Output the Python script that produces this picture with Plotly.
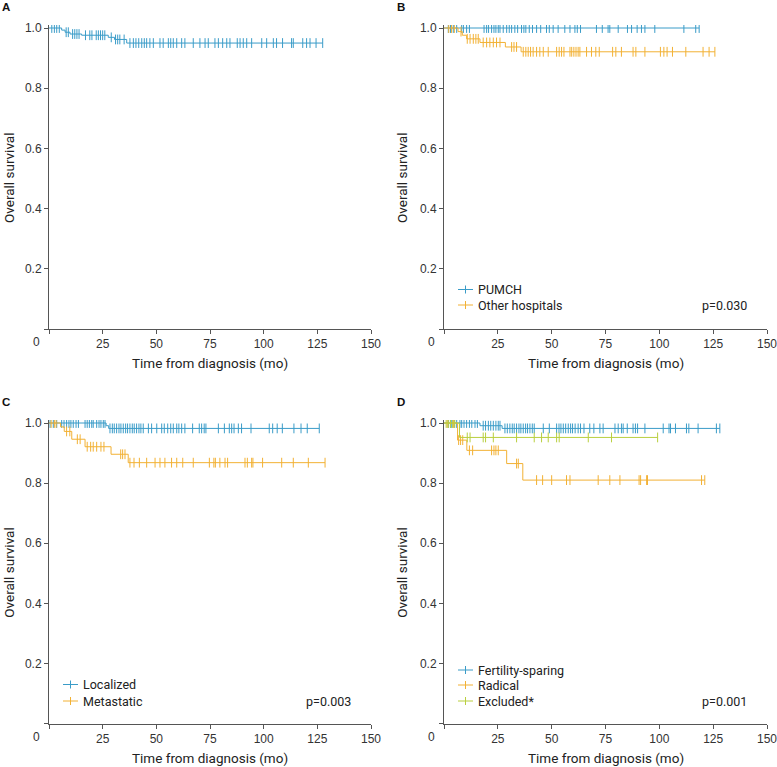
import numpy as np
import plotly.graph_objects as go

BLUE = "#3a9cc8"
ORANGE = "#f2b134"
GREEN = "#b9cf3e"

# ---------------- data ----------------
# Panel A: all patients
a_evt_t = [5.9, 7.5, 9.8, 15.2, 27.6, 30.5, 36.2]
a_evt_s = [0.993, 0.986, 0.980, 0.976, 0.969, 0.962, 0.950]
a_cens = [1.3, 2.5, 3.6, 4.8, 8, 9, 11, 12, 13, 14, 17, 19, 20, 22, 23, 24, 25, 26,
          29, 31, 32, 33, 35, 37.7, 39.3, 40.5, 41.8, 43.2, 44.4, 45.5, 47.0, 48.6,
          51.7, 53.2, 55.6, 56.7, 57.9, 59.5, 61.8, 63.3, 67.2, 70.3, 72.7, 74.2,
          77.3, 78.9, 80.9, 82.8, 84.3, 87.7, 89.0, 90.5, 92.1, 94.4, 99.1, 101.4,
          104.5, 106.0, 108.8, 113.0, 113.8, 118.2, 120.0, 121.6, 124.4, 127.5]

# Panel B: PUMCH vs other hospitals
b_pumch_evt_t = []
b_pumch_evt_s = []
b_pumch_cens = [2.0, 3.0, 4.3, 5.9, 8.2, 9.0, 10.5, 11.8, 18.6, 19.8, 20.7, 22.1, 23.2,
                24.1, 25.2, 26.0, 27.5, 29.1, 30.3, 31.4, 32.9, 34.2, 36.0, 37.1, 38.0,
                39.6, 41.1, 43.0, 44.9, 47.6, 48.9, 50.7, 53.0, 56.1, 58.5, 60.8, 61.9,
                63.4, 70.8, 73.5, 76.2, 77.0, 80.9, 85.2, 87.1, 89.7, 91.7, 93.3, 97.9,
                111.4, 116.9, 118.5]
b_other_evt_t = [6.5, 8.5, 10.5, 16.7, 28.5, 35.8]
b_other_evt_s = [0.988, 0.976, 0.964, 0.952, 0.937, 0.921]
b_other_cens = [2.2, 3.5, 4.8, 7.9, 10.8, 12.1, 13.6, 14.8, 15.9, 18.2, 19.8, 21.3, 22.9,
                24.4, 26.0, 31.4, 32.5, 33.7, 36.8, 38.0, 39.1, 40.2, 41.4, 43.0, 44.5,
                46.1, 48.4, 52.3, 53.5, 54.6, 55.7, 58.5, 59.3, 60.3, 61.3, 62.3, 63.1,
                66.2, 68.5, 70.5, 72.1, 78.3, 79.8, 82.4, 87.8, 89.1, 93.3, 100.5, 102.1,
                103.6, 106.1, 112.3, 120.3, 123.1, 125.8]

# Panel C: localized vs metastatic
c_loc_evt_t = [26.6, 27.8]
c_loc_evt_s = [0.991, 0.982]
c_loc_cens = [0.5, 2.0, 3.6, 5.9, 7.0, 8.2, 9.3, 10.2, 11.3, 12.6, 13.7, 16.8, 17.8, 18.8,
              19.9, 20.6, 22.2, 23.3, 24.2, 25.3, 26.1, 28.4, 29.5, 30.4, 31.5, 32.6,
              33.5, 34.6, 35.7, 36.6, 37.7, 38.8, 39.7, 40.8, 41.9, 42.8, 43.9, 46.3,
              47.8, 50.2, 52.5, 53.7, 55.3, 56.7, 57.9, 59.5, 60.5, 61.8, 63.3, 66.9,
              70.0, 71.1, 72.3, 73.1, 78.9, 81.7, 84.0, 85.1, 86.2, 88.2, 89.7, 94.1,
              102.6, 104.2, 106.3, 108.7, 114.1, 117.4, 120.3, 125.9]
c_met_evt_t = [5.4, 7.1, 10.6, 16.8, 28.9, 36.9]
c_met_evt_s = [0.987, 0.972, 0.946, 0.921, 0.896, 0.868]
c_met_cens = [1.0, 2.5, 3.3, 8.2, 9.7, 13.2, 14.5, 17.8, 19.4, 20.6, 22.2, 24.2, 25.6,
              33.4, 34.3, 35.4, 37.7, 39.6, 42.1, 45.5, 49.4, 51.7, 54.0, 57.1, 59.5,
              62.3, 67.2, 74.7, 76.8, 77.5, 79.6, 82.0, 83.2, 91.3, 92.4, 94.4, 95.0,
              99.5, 108.4, 113.8, 120.8, 128.6]

# Panel D: fertility-sparing vs radical vs excluded
d_fs_evt_t = [16.7, 27.0]
d_fs_evt_s = [0.991, 0.982]
d_fs_cens = [2.0, 3.0, 3.6, 4.7, 5.9, 7.4, 8.2, 9.3, 10.5, 11.8, 12.9, 14.4, 15.5, 18.2,
             19.3, 20.6, 21.7, 22.9, 24.1, 25.2, 26.0, 28.3, 29.4, 30.6, 31.7, 32.6,
             33.7, 34.8, 35.7, 36.8, 37.9, 38.8, 39.9, 41.0, 41.9, 46.1, 48.9, 52.3,
             53.4, 54.3, 55.4, 56.5, 57.7, 58.8, 59.7, 60.9, 62.3, 63.4, 65.0, 67.7,
             69.6, 72.4, 73.9, 79.4, 80.9, 82.4, 83.2, 85.1, 87.8, 88.9, 89.9, 93.3,
             101.8, 104.5, 105.2, 107.5, 112.6, 113.7, 118.0, 126.5, 128.1]
d_rad_evt_t = [6.3, 10.6, 29.1, 36.6]
d_rad_evt_s = [0.943, 0.909, 0.865, 0.810]
d_rad_cens = [1.5, 3.0, 4.5, 6.8, 7.7, 8.7, 11.8, 13.3, 22.1, 23.2, 24.1, 25.2, 33.7,
              34.5, 43.0, 45.8, 50.0, 56.9, 58.5, 71.6, 77.0, 81.7, 90.6, 91.3, 94.1,
              94.5, 119.6, 121.1]
d_exc_evt_t = [7.2]
d_exc_evt_s = [0.952]
d_exc_cens = [1.0, 2.0, 3.0, 4.0, 5.0, 10.8, 12.1, 18.2, 19.3, 22.9, 33.7, 41.9, 45.3,
              48.4, 52.3, 53.5, 67.0, 77.8, 99.2]

x_ticks = [0, 25, 50, 75, 100, 125, 150]
y_ticks = [0, 0.2, 0.4, 0.6, 0.8, 1.0]
x_title = "Time from diagnosis (mo)"
y_title = "Overall survival"

panels = {
    "A": dict(curves=[("All", a_evt_t, a_evt_s, a_cens, BLUE)], legend=False, p=None,
              rows=[]),
    "B": dict(curves=[("PUMCH", b_pumch_evt_t, b_pumch_evt_s, b_pumch_cens, BLUE),
                      ("Other hospitals", b_other_evt_t, b_other_evt_s, b_other_cens, ORANGE)],
              legend=True, p="p=0.030", rows=[289.5, 305]),
    "C": dict(curves=[("Localized", c_loc_evt_t, c_loc_evt_s, c_loc_cens, BLUE),
                      ("Metastatic", c_met_evt_t, c_met_evt_s, c_met_cens, ORANGE)],
              legend=True, p="p=0.003", rows=[684.5, 701]),
    "D": dict(curves=[("Fertility-sparing", d_fs_evt_t, d_fs_evt_s, d_fs_cens, BLUE),
                      ("Radical", d_rad_evt_t, d_rad_evt_s, d_rad_cens, ORANGE),
                      ("Excluded*", d_exc_evt_t, d_exc_evt_s, d_exc_cens, GREEN)],
              legend=True, p="p=0.001", rows=[670, 685, 701]),
}

W, H = 777, 767
def px_x(v):
    return v / W
def px_y(v):
    return (H - v) / H

# layout geometry (pixels)
geom = {
    "A": dict(x0=49, x1=371, ybot=329, ytop=25, ax="x", ay="y", ytx=9),
    "B": dict(x0=444, x1=767, ybot=329, ytop=25, ax="x2", ay="y2", ytx=402),
    "C": dict(x0=49, x1=371, ybot=723.5, ytop=420, ax="x3", ay="y3", ytx=9),
    "D": dict(x0=444, x1=767, ybot=723.5, ytop=420, ax="x4", ay="y4", ytx=402),
}

TICKFONT = dict(family="Liberation Sans, Arial", size=12, color="#333")
TITLEFONT = dict(family="Roboto, Noto Sans", size=13.5, color="#222")
LEGFONT = dict(family="Roboto, Noto Sans", size=12.5, color="#222")

fig = go.Figure()

def surv_at(evt_t, evt_s, t):
    t_arr = np.asarray(evt_t, dtype=float)
    s_arr = np.concatenate([[1.0], np.asarray(evt_s, dtype=float)])
    idx = np.searchsorted(t_arr, np.asarray(t, dtype=float), side="right")
    return s_arr[idx]

for key, pan in panels.items():
    g = geom[key]
    for name, et, es, cens, col in pan["curves"]:
        t_end = max(cens + et)
        xs = [0] + list(et) + [t_end]
        ys = [1.0] + list(es) + [es[-1] if es else 1.0]
        fig.add_trace(go.Scatter(x=xs, y=ys, mode="lines", line=dict(color=col, width=1, shape="hv"),
                                 xaxis=g["ax"], yaxis=g["ay"], showlegend=False, hoverinfo="skip",
                                 name=name))
        fig.add_trace(go.Scatter(x=cens, y=surv_at(et, es, cens), mode="markers",
                                 marker=dict(symbol="line-ns-open", size=7, color=col,
                                             line=dict(color=col, width=1)),
                                 xaxis=g["ax"], yaxis=g["ay"], showlegend=False, hoverinfo="skip",
                                 name=name + " (censored)"))

layout = dict(width=W, height=H, margin=dict(l=0, r=0, t=0, b=0),
              paper_bgcolor="white", plot_bgcolor="white", showlegend=False)

annotations = []
shapes = []
for key, g in geom.items():
    xn = g["ax"].replace("x", "xaxis")
    yn = g["ay"].replace("y", "yaxis")
    layout[xn] = dict(domain=[px_x(g["x0"]), px_x(g["x1"])], range=[0, 150],
                      tickvals=x_ticks, ticktext=[""] + [str(v) for v in x_ticks[1:]],
                      ticks="outside", ticklen=4, tickcolor="#555", showline=True,
                      linecolor="#555", linewidth=1, showgrid=False, zeroline=False,
                      tickfont=TICKFONT, anchor=g["ay"], automargin=False,
                      ticklabeloverflow="allow")
    layout[yn] = dict(domain=[px_y(g["ybot"]), px_y(g["ytop"])], range=[0, 1.01],
                      tickvals=y_ticks, ticktext=[""] + ["%.1f" % v for v in y_ticks[1:]],
                      ticks="outside", ticklen=4, tickcolor="#555", showline=True,
                      linecolor="#555", linewidth=1, showgrid=False, zeroline=False,
                      tickfont=TICKFONT, anchor=g["ax"], automargin=False,
                      ticklabeloverflow="allow")
    # axis titles
    annotations.append(dict(x=px_x((g["x0"] + g["x1"]) / 2), y=px_y(g["ybot"] + 34),
                            xref="paper", yref="paper", text=x_title, showarrow=False,
                            xanchor="center", yanchor="middle", font=TITLEFONT))
    annotations.append(dict(x=px_x(g["ytx"]), y=px_y((g["ybot"] + g["ytop"]) / 2 + 1),
                            xref="paper", yref="paper", text=y_title, showarrow=False,
                            textangle=-90, xanchor="center", yanchor="middle", font=TITLEFONT))
    # panel letter
    annotations.append(dict(x=px_x(g["x0"] - 43), y=px_y(g["ytop"] - 18), xref="paper", yref="paper",
                            text="<b>%s</b>" % key, showarrow=False, xanchor="center", yanchor="middle",
                            font=dict(family="Liberation Sans, Arial", size=11.5, color="#111")))
    # origin label
    annotations.append(dict(x=px_x(g["x0"] - 13), y=px_y(g["ybot"] + 13), xref="paper", yref="paper",
                            text="0", showarrow=False, xanchor="center", yanchor="middle",
                            font=TICKFONT))

for key, pan in panels.items():
    g = geom[key]
    if pan["p"]:
        annotations.append(dict(x=px_x(g["x1"] - 18), y=px_y(pan["rows"][-1]), xref="paper", yref="paper",
                                text=pan["p"], showarrow=False, xanchor="right", yanchor="middle",
                                font=LEGFONT))
    if pan["legend"]:
        for (name, et, es, cens, col), ry in zip(pan["curves"], pan["rows"]):
            lx0 = g["x0"] + 14
            lx1 = lx0 + 15
            shapes.append(dict(type="line", xref="paper", yref="paper",
                               x0=px_x(lx0), x1=px_x(lx1), y0=px_y(ry), y1=px_y(ry),
                               line=dict(color=col, width=1)))
            shapes.append(dict(type="line", xref="paper", yref="paper",
                               x0=px_x(lx0 + 7.5), x1=px_x(lx0 + 7.5), y0=px_y(ry - 4), y1=px_y(ry + 4),
                               line=dict(color=col, width=1)))
            annotations.append(dict(x=px_x(lx1 + 3), y=px_y(ry), xref="paper", yref="paper",
                                    text=name, showarrow=False, xanchor="left", yanchor="middle",
                                    font=LEGFONT))

layout["annotations"] = annotations
layout["shapes"] = shapes

fig.update_layout(**layout)
fig.write_html("out.html", config={"responsive": False, "displayModeBar": False},
               post_script="document.body.style.margin='0';document.body.style.padding='0';")
